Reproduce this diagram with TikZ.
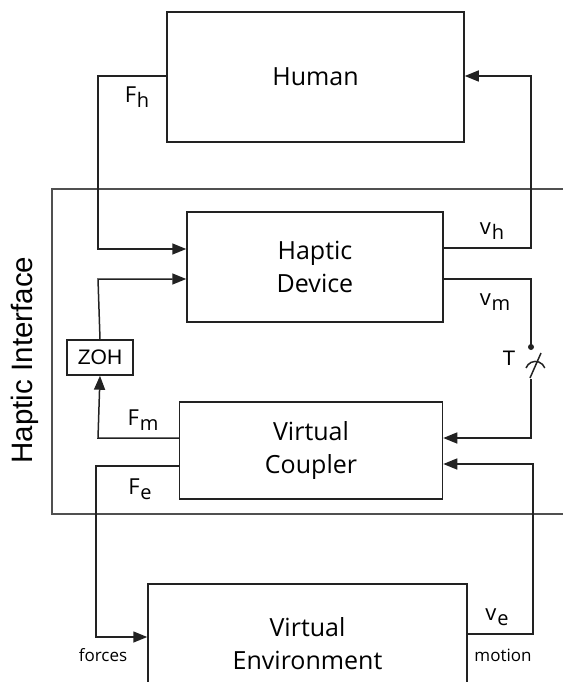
\documentclass[tikz,border=0pt]{standalone}
\usepackage{fontspec}
\setmainfont{Open Sans}
\newfontfamily\arialfont{Liberation Sans}
\usetikzlibrary{arrows.meta}
\definecolor{ink}{HTML}{222222}
\definecolor{frame}{HTML}{505050}
% symbol with a lowered index of nearly the same size
\newcommand{\sig}[2]{#1\kern0.8pt\raisebox{-0.4ex}{\fontsize{20}{20}\selectfont #2}}
\begin{document}
\begin{tikzpicture}[x=1pt,y=-1pt,
  block/.style={draw=ink, line width=1.5pt, inner sep=0pt, align=center,
    font=\fontsize{25}{33}\selectfont},
  wire/.style={draw=ink, line width=1.5pt},
  feed/.style={wire, -{Triangle[length=14pt,width=11pt]}},
  sig/.style={inner sep=0pt, font=\fontsize{22}{22}\selectfont},
  small/.style={inner sep=0pt, font=\fontsize{17}{17}\selectfont}]
\useasboundingbox (0,0) rectangle (562,682);

% haptic interface frame (open to the right)
\node[draw=frame, line width=1.3pt, minimum width=600pt, minimum height=325pt, inner sep=0pt]
  (hi) at (352,351.5) {};
\node[rotate=90, inner sep=0pt, font=\arialfont\fontsize{29.5}{29.5}\selectfont] (hilabel) at (25,360) {Haptic Interface};

% blocks
\node[block, minimum width=297pt, minimum height=130pt] (human) at (315.5,77) {Human};
\node[block, minimum width=256pt, minimum height=110pt] (hd) at (315,267) {Haptic\\Device};
\node[block, minimum width=263pt, minimum height=97pt] (vc) at (311,450.5) {Virtual\\Coupler};
\node[block, minimum width=319pt, minimum height=120pt] (ve) at (307.5,644) {Virtual\\Environment};
\node[block, minimum width=66pt, minimum height=35pt, font=\arialfont\fontsize{21}{21}\selectfont] (zoh) at (100,357.5) {ZOH};

% sampler
\coordinate (s1) at (531,347);
\coordinate (s2) at (531,379);
\fill[ink] (s1) circle[radius=3pt];
\draw[wire] (530,378) -- (541,353);
\draw[wire] (526,368) arc[start angle=200, end angle=340, radius=10];
\node[inner sep=0pt, font=\arialfont\fontsize{21}{21}\selectfont] (tlabel) at (509,358) {T};

% connectors
\draw[feed] (human.west |- 0,76) -- (98,76) -- (98,249) -- (hd.west |- 0,249);
\draw[feed] (hd.east |- 0,248) -- (531,248) -- (531,76) -- (human.east |- 0,76);
\draw[wire] (hd.east |- 0,279) -- (531,279) -- (s1);
\draw[feed] (s2) -- (531,438) -- (vc.east |- 0,438);
\draw[feed] (vc.west |- 0,438) -- (98,438) -- (zoh.south);
\draw[feed] (zoh.north) -- (98,279) -- (hd.west |- 0,279);
\draw[feed] (vc.west |- 0,466) -- (96,466) -- (96,637) -- (ve.west |- 0,637);
\draw[feed] (ve.east |- 0,634) -- (533,634) -- (533,464) -- (vc.east |- 0,464);

% signal labels
\node[sig] (fh) at (137,97) {\sig{F}{h}};
\node[sig] (vh) at (492,231) {\sig{v}{h}};
\node[sig] (vm) at (495,302) {\sig{v}{m}};
\node[sig] (fm) at (143,420) {\sig{F}{m}};
\node[sig] (fe) at (140,489) {\sig{F}{e}};
\node[sig] (vel) at (497,617) {\sig{v}{e}};
\node[small] (forces) at (103,655) {forces};
\node[small] (motion) at (503,655) {motion};
\end{tikzpicture}
\end{document}
